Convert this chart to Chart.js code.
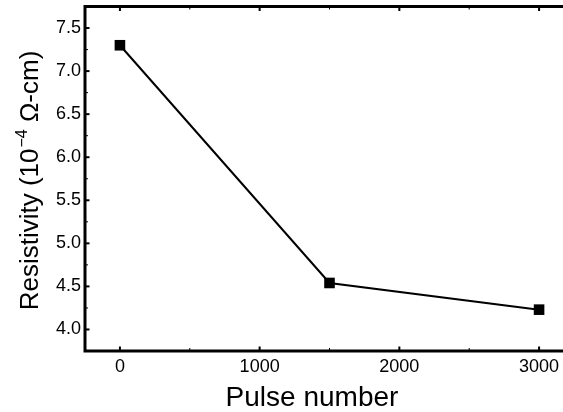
<!DOCTYPE html>
<html>
<head>
<meta charset="utf-8">
<script src="https://cdn.jsdelivr.net/npm/chart.js@4.4.1/dist/chart.umd.min.js"></script>
<style>
  html, body { margin: 0; padding: 0; background: #fff; overflow: hidden; }
  #wrap { width: 563px; height: 412px; overflow: hidden; position: relative; }
  canvas { display: block; }
</style>
</head>
<body>
<div id="wrap"><canvas id="c" width="580" height="412"></canvas></div>
<script>
// ---- data ----
const pulseNumbers = [0, 1500, 3000];
const resistivity = [7.30, 4.54, 4.23];
const xMajorTicks = [0, 1000, 2000, 3000];
const xMinorTicks = [500, 1500, 2500];
const yMajorTicks = [4.0, 4.5, 5.0, 5.5, 6.0, 6.5, 7.0, 7.5];
const yMinorTicks = [3.75, 4.25, 4.75, 5.25, 5.75, 6.25, 6.75, 7.25];
const xTitle = 'Pulse number';
const yTitleMain = 'Resistivity (10';
const yTitleSup = '\u22124';
const yTitleTail = ' \u03A9-cm)';

const FONT = '"Liberation Sans", Arial, Helvetica, sans-serif';

const framePlugin = {
  id: 'frame',
  afterDatasetsDraw(chart) {
    const ctx = chart.ctx;
    const a = chart.chartArea;
    const xs = chart.scales.x, ys = chart.scales.y;
    ctx.save();
    ctx.strokeStyle = '#000';
    ctx.lineWidth = 3;
    ctx.beginPath();
    ctx.moveTo(a.right + 2, a.top);
    ctx.lineTo(a.left, a.top);
    ctx.lineTo(a.left, a.bottom);
    ctx.lineTo(a.right + 2, a.bottom);
    ctx.stroke();
    function tickX(v, len, w) {
      const p = xs.getPixelForValue(v);
      ctx.lineWidth = w;
      ctx.beginPath();
      ctx.moveTo(p, a.bottom); ctx.lineTo(p, a.bottom - len);
      ctx.moveTo(p, a.top); ctx.lineTo(p, a.top + len);
      ctx.stroke();
    }
    function tickY(v, len, w) {
      const p = ys.getPixelForValue(v);
      ctx.lineWidth = w;
      ctx.beginPath();
      ctx.moveTo(a.left, p); ctx.lineTo(a.left + len, p);
      ctx.stroke();
    }
    xMajorTicks.forEach(v => tickX(v, 4.5, 2));
    xMinorTicks.forEach(v => tickX(v, 3, 1));
    yMajorTicks.forEach(v => tickY(v, 4.5, 2));
    yMinorTicks.forEach(v => tickY(v, 3, 1));

    ctx.fillStyle = '#000';
    ctx.font = '28px ' + FONT;
    ctx.textAlign = 'center';
    ctx.textBaseline = 'alphabetic';
    ctx.fillText(xTitle, 312, 406);

    const mainFont = '26px ' + FONT;
    const supFont = '16px ' + FONT;
    ctx.font = mainFont;
    const w1 = ctx.measureText(yTitleMain).width;
    const w3 = ctx.measureText(yTitleTail).width;
    ctx.font = supFont;
    const w2 = ctx.measureText(yTitleSup).width;
    const total = w1 + w2 + w3;
    ctx.translate(38, 181);
    ctx.rotate(-Math.PI / 2);
    ctx.textAlign = 'left';
    let x0 = -total / 2;
    ctx.font = mainFont;
    ctx.fillText(yTitleMain, x0, 0);
    ctx.font = supFont;
    ctx.fillText(yTitleSup, x0 + w1 + 1, -11);
    ctx.font = mainFont;
    ctx.fillText(yTitleTail, x0 + w1 + w2 + 1, 0);
    ctx.restore();
  }
};

const ctx = document.getElementById('c').getContext('2d');
new Chart(ctx, {
  type: 'line',
  data: {
    datasets: [{
      data: pulseNumbers.map((x, i) => ({ x: x, y: resistivity[i] })),
      borderColor: '#000',
      backgroundColor: '#000',
      borderWidth: 2,
      tension: 0,
      pointStyle: 'rect',
      pointRadius: 7.5,
      pointBorderWidth: 0,
      pointBackgroundColor: '#000',
      clip: false
    }]
  },
  options: {
    responsive: false,
    animation: false,
    devicePixelRatio: 1,
    layout: { autoPadding: false, padding: { top: 6.5, right: 6, left: 0, bottom: 0 } },
    plugins: { legend: { display: false }, tooltip: { enabled: false } },
    scales: {
      x: {
        type: 'linear',
        min: -250, max: 3250,
        afterBuildTicks: s => { s.ticks = xMajorTicks.map(v => ({ value: v })); },
        afterFit: s => { s.height = 61; s.paddingLeft = 0; s.paddingRight = 0; },
        grid: { display: false, drawTicks: false },
        border: { display: false },
        ticks: {
          autoSkip: false, maxRotation: 0, padding: 5,
          color: '#000',
          font: { family: FONT, size: 18 },
          callback: v => String(v)
        }
      },
      y: {
        type: 'linear',
        min: 3.75, max: 7.75,
        afterBuildTicks: s => { s.ticks = yMajorTicks.map(v => ({ value: v })); },
        afterFit: s => { s.width = 85; s.paddingTop = 0; s.paddingBottom = 0; },
        grid: { display: false, drawTicks: false },
        border: { display: false },
        ticks: {
          autoSkip: false, padding: 4,
          color: '#000',
          font: { family: FONT, size: 18 },
          callback: v => Number(v).toFixed(1)
        }
      }
    }
  },
  plugins: [framePlugin]
});
</script>
</body>
</html>
